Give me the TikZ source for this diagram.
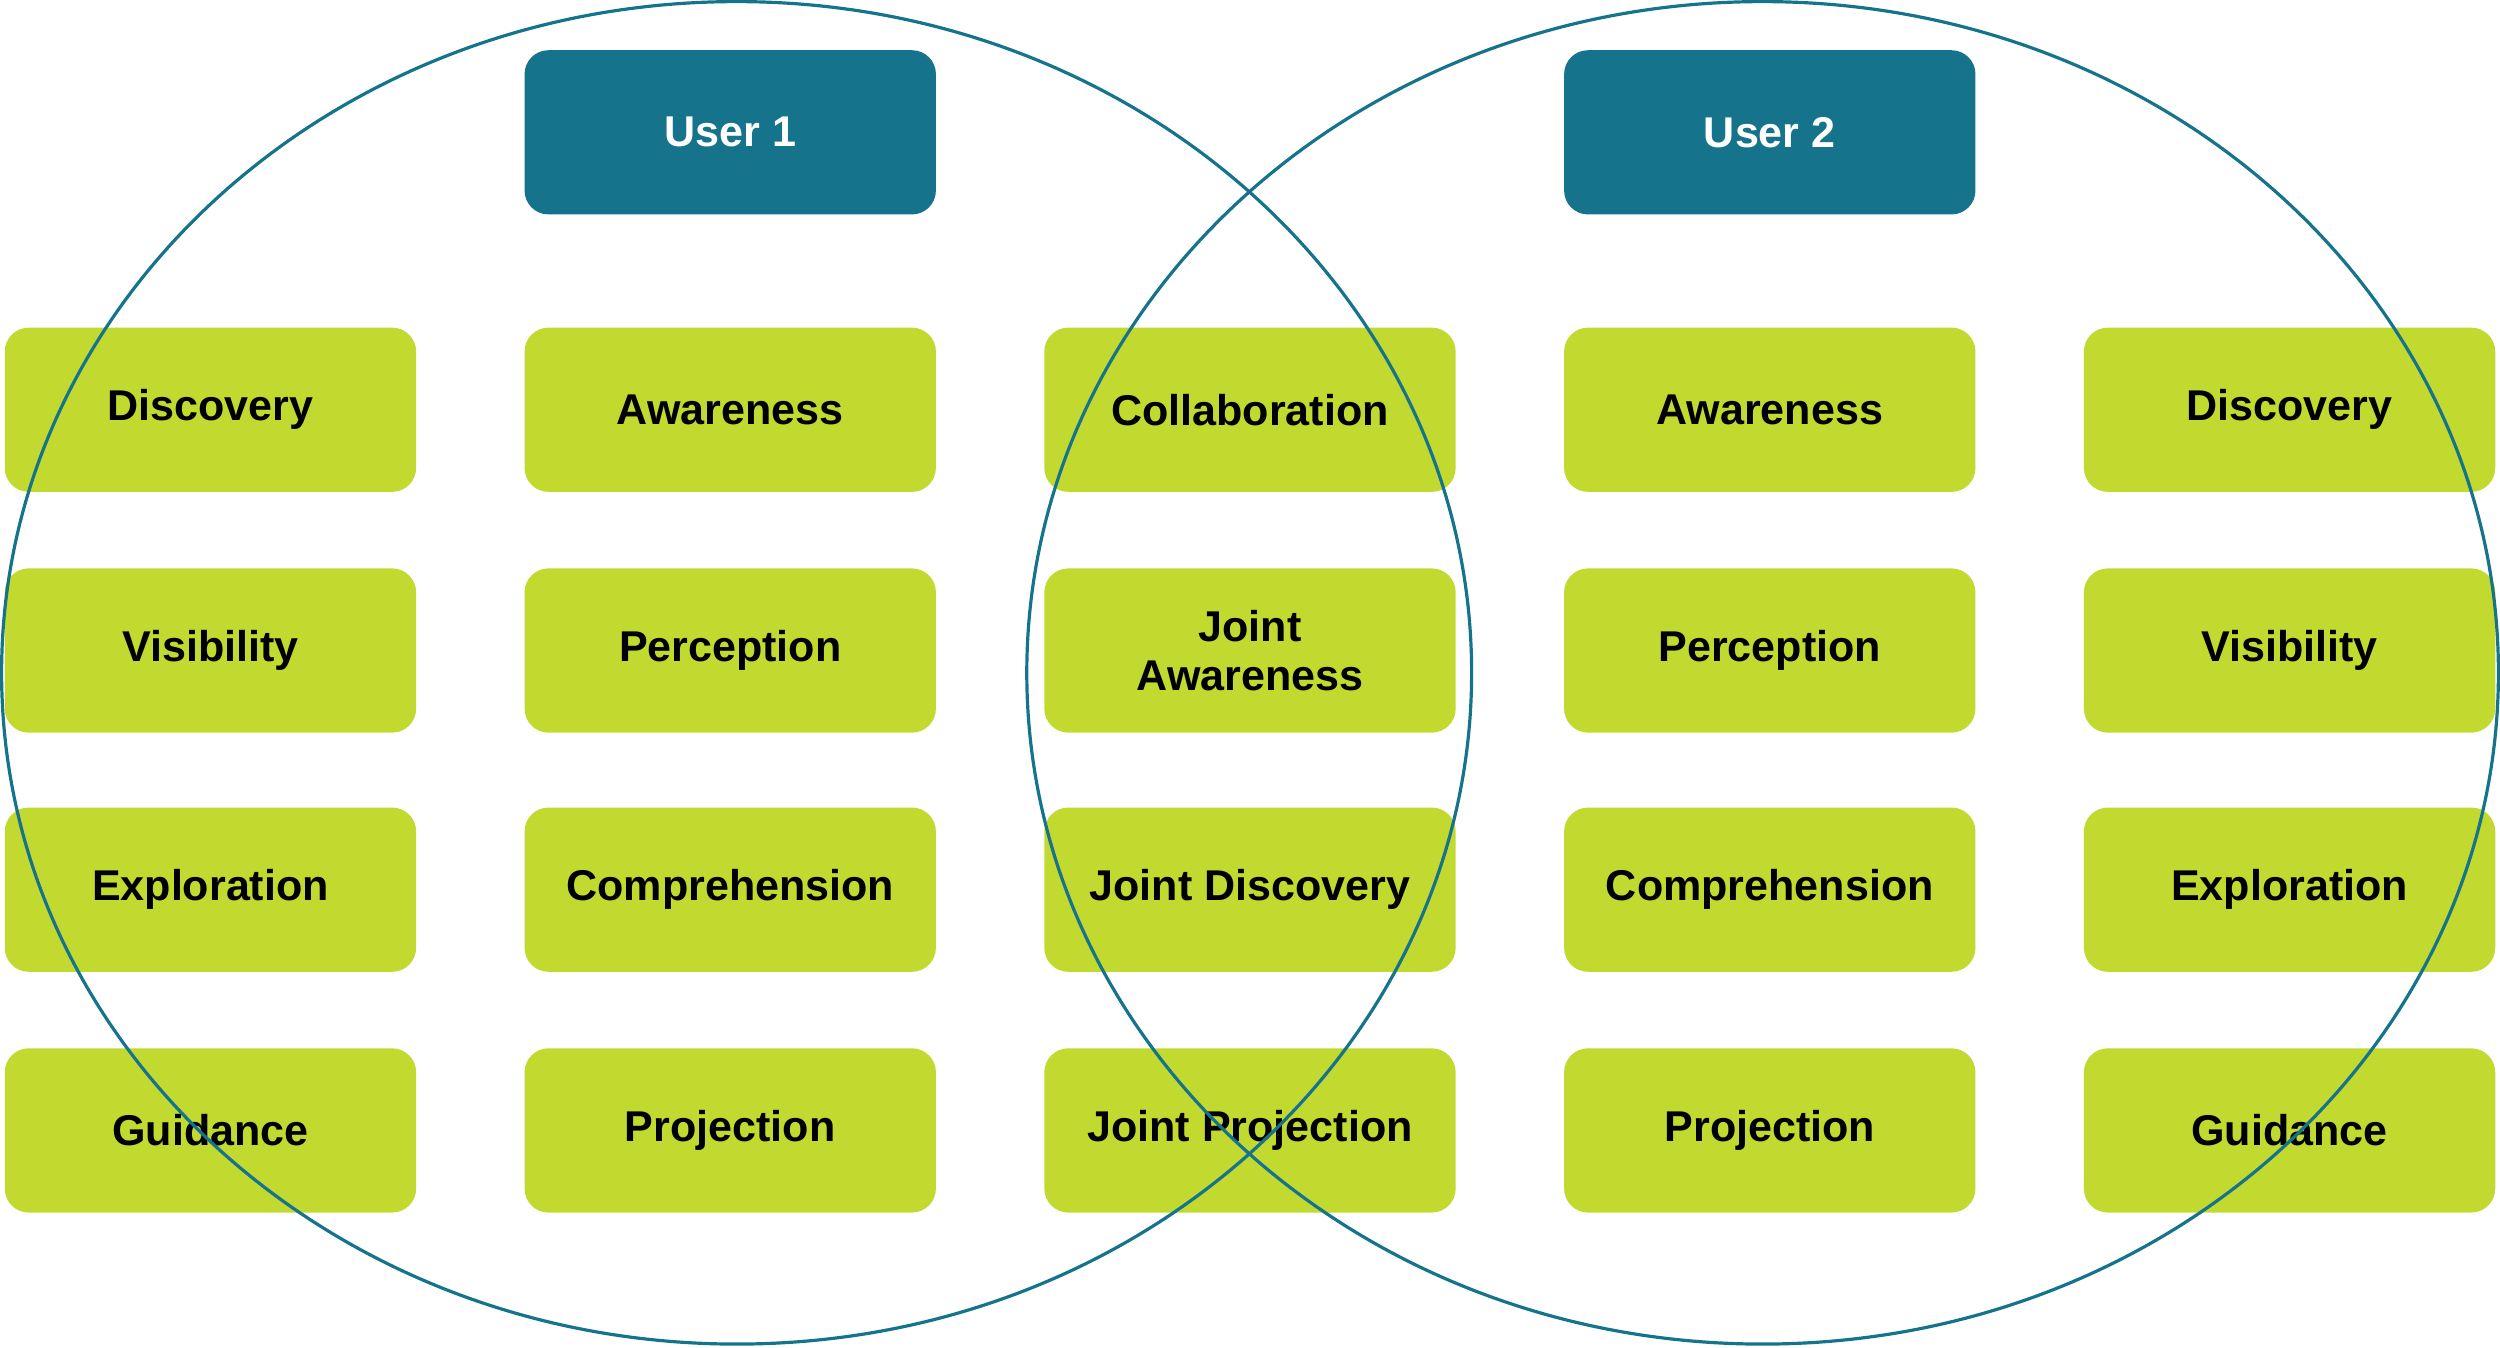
\documentclass[tikz,border=0pt]{standalone}
\usepackage{fontspec}
\setmainfont{Liberation Sans}
\definecolor{grn}{HTML}{C2D930}
\definecolor{teal}{HTML}{15748C}
\begin{document}
\begin{tikzpicture}[x=1pt,y=-1pt,
  box/.style={fill=grn,rounded corners=15pt,minimum width=258pt,minimum height=103pt,inner sep=0pt,
    font=\fontsize{27}{31}\selectfont\bfseries,text=black,align=center},
  user/.style={box,fill=teal,text=white},
  ring/.style={draw=teal,line width=2pt}]
\useasboundingbox (0,0) rectangle (1568,845);
\node[user] (u1) at (458,83) {User 1};
\node[user] (u2) at (1110,83) {User 2};
\foreach \n/\x/\y/\t in {
 a1/132/257/Discovery, a2/132/408/Visibility, a3/132/558/Exploration, a4/132/709/Guidance,
 b1/458/257/Awareness, b2/458/408/Perception, b3/458/558/Comprehension, b4/458/709/Projection,
 c1/784/257/Collaboration, c2/784/408/{Joint\\Awareness}, c3/784/558/Joint Discovery, c4/784/709/Joint Projection,
 d1/1110/257/Awareness, d2/1110/408/Perception, d3/1110/558/Comprehension, d4/1110/709/Projection,
 e1/1436/257/Discovery, e2/1436/408/Visibility, e3/1436/558/Exploration, e4/1436/709/Guidance}
 {\node[box] (\n) at (\x,\y) {\t};}
\draw[ring] (462,422) ellipse [x radius=461, y radius=421];
\draw[ring] (1105.5,422) ellipse [x radius=461.5, y radius=421];
\end{tikzpicture}
\end{document}
